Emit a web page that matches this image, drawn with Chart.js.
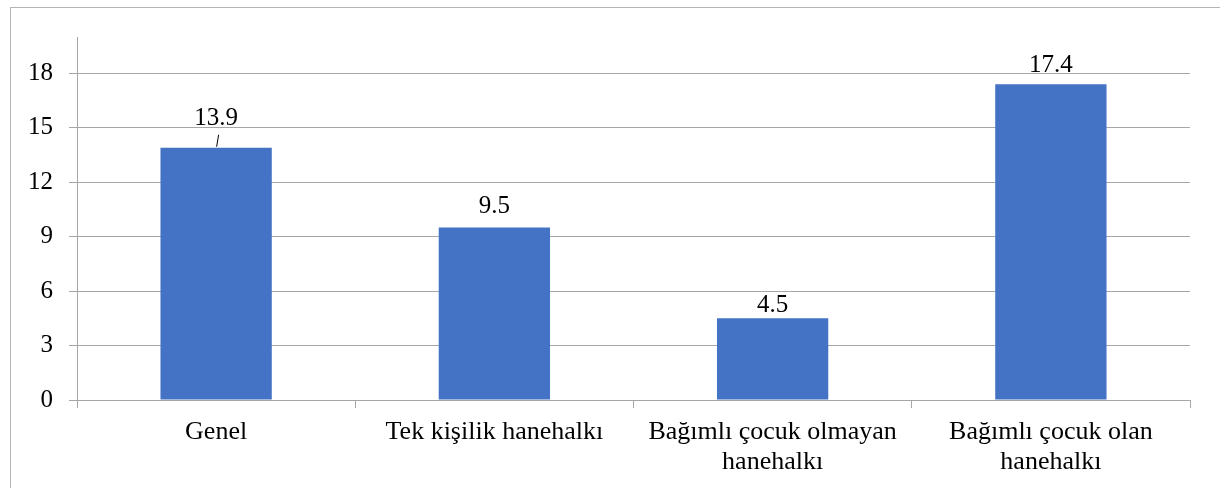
<!DOCTYPE html>
<html>
<head>
<meta charset="utf-8">
<script src="https://cdn.jsdelivr.net/npm/chart.js@4/dist/chart.umd.min.js"></script>
</head>
<body style="margin:0">
<canvas id="chart" width="1220" height="488"></canvas>
<script>
// veriler
var categories = [
    "Genel",
    "Tek kişilik hanehalkı",
    ["Bağımlı çocuk olmayan", "hanehalkı"],
    ["Bağımlı çocuk olan", "hanehalkı"]
];
var values = [13.9, 9.5, 4.5, 17.4];
var valueLabels = ["13.9", "9.5", "4.5", "17.4"];
var yTicks = [0, 3, 6, 9, 12, 15, 18];

var fontFamily = "'Liberation Serif', serif";
var gridColor = "#a6a6a6";

// kader en etiketler
var extras = {
    id: "extras",
    beforeDraw: function (chart) {
        var c = chart.ctx;
        c.save();
        c.fillStyle = "#fff";
        c.fillRect(0, 0, chart.width, chart.height);
        c.strokeStyle = "#b4b4b4";
        c.lineWidth = 1;
        c.strokeRect(10.5, 7.5, chart.width, chart.height);
        c.restore();
    },
    afterDatasetsDraw: function (chart, args, opts) {
        var c = chart.ctx;
        var bars = chart.getDatasetMeta(0).data;
        c.save();
        c.font = "25px " + fontFamily;
        c.fillStyle = "#000";
        c.textAlign = "center";
        c.textBaseline = "alphabetic";
        bars.forEach(function (bar, i) {
            var off = opts.offsets[i];
            c.fillText(valueLabels[i], bar.x, bar.y - off);
            if (off > 20) {
                // leader line
                c.strokeStyle = "#000";
                c.lineWidth = 1;
                c.beginPath();
                c.moveTo(bar.x + 2.5, bar.y - 13);
                c.lineTo(bar.x + 0.5, bar.y - 1);
                c.stroke();
            }
        });
        c.restore();
    }
};

var barChart = new Chart(document.getElementById("chart").getContext("2d"), {
    type: "bar",
    data: {
        labels: categories,
        datasets: [{
            data: values,
            backgroundColor: "#4472C4",
            borderWidth: 0,
            barPercentage: 0.4,
            categoryPercentage: 1
        }]
    },
    plugins: [extras],
    options: {
        responsive: false,
        animation: false,
        layout: { padding: { top: 37, right: 30, bottom: 0, left: 0 } },
        plugins: {
            legend: { display: false },
            tooltip: { enabled: false },
            extras: { offsets: [23, 15, 6, 12] }
        },
        scales: {
            x: {
                offset: true,
                grid: {
                    offset: true,
                    drawOnChartArea: false,
                    tickLength: 8,
                    color: gridColor
                },
                border: { color: gridColor },
                ticks: {
                    color: "#000",
                    padding: 9,
                    maxRotation: 0,
                    autoSkip: false,
                    font: { family: fontFamily, size: 26, lineHeight: 1.15 }
                },
                afterFit: function (scale) { scale.height = 88; }
            },
            y: {
                min: 0,
                max: 20,
                grid: { color: gridColor, tickLength: 8 },
                border: { color: gridColor },
                ticks: {
                    color: "#000",
                    padding: 16,
                    stepSize: 3,
                    font: { family: fontFamily, size: 25 }
                },
                afterBuildTicks: function (scale) {
                    scale.ticks = yTicks.map(function (v) { return { value: v }; });
                },
                afterFit: function (scale) { scale.width = 77; }
            }
        }
    }
});
</script>
</body>
</html>
